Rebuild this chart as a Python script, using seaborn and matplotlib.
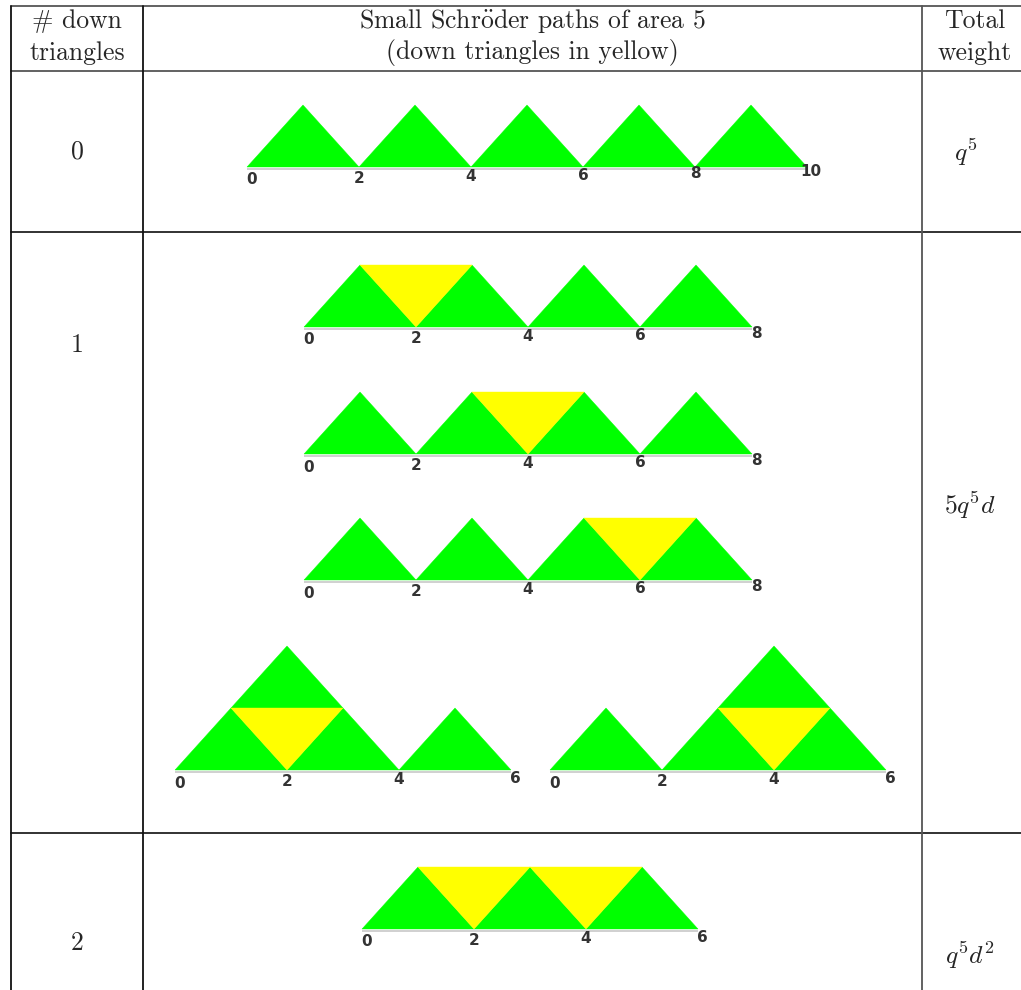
import matplotlib
matplotlib.use("Agg")
import matplotlib.pyplot as plt
import matplotlib.transforms as mtransforms
from matplotlib.patches import Polygon
import seaborn as sns

sns.set_theme(style="white")
plt.rcParams["mathtext.fontset"] = "cm"
plt.rcParams["font.family"] = ["cmr10", "DejaVu Serif"]
plt.rcParams["axes.formatter.use_mathtext"] = True

# ---------------- data ----------------
header_left = ["# down", "triangles"]
header_mid = [r"Small Schr$\ddot{\rm o}$der paths of area 5", "(down triangles in yellow)"]
header_right = ["Total", "weight"]
row_labels = ["0", "1", "2"]
row_weights = [r"$q^5$", r"$5q^5d$", r"$q^5d^2$"]

# each path: up triangles (left x, level), down triangles (left x, level), length
path_ups = [
    [(0, 0), (2, 0), (4, 0), (6, 0), (8, 0)],
    [(0, 0), (2, 0), (4, 0), (6, 0)],
    [(0, 0), (2, 0), (4, 0), (6, 0)],
    [(0, 0), (2, 0), (4, 0), (6, 0)],
    [(0, 0), (2, 0), (1, 1), (4, 0)],
    [(0, 0), (2, 0), (4, 0), (3, 1)],
    [(0, 0), (2, 0), (4, 0)],
]
path_downs = [
    [],
    [(1, 0)],
    [(3, 0)],
    [(5, 0)],
    [(1, 0)],
    [(3, 0)],
    [(1, 0), (3, 0)],
]
path_lengths = [10, 8, 8, 8, 6, 6, 6]

# ---------------- layout (pixels) ----------------
W, H = 1021, 990
origins = [(247, 167), (304, 327), (304, 454), (304, 580),
           (175, 770), (550, 770), (362, 929)]
UX, UY = 56.0, 62.0
GREEN = "#00ff00"
YELLOW = "#ffff00"

fig = plt.figure(figsize=(W / 100, H / 100), dpi=100)
ax = fig.add_axes([0, 0, 1, 1])
ax.set_xlim(0, W)
ax.set_ylim(H, 0)
ax.axis("off")

# table rules
lw = 1.3
ax.plot([11, W], [6, 6], color="#555555", lw=lw)
ax.plot([11, W], [71, 71], color="#555555", lw=lw)
for y in (232, 833):
    ax.plot([11, W], [y, y], color="#222222", lw=lw)
for x in (11, 143):
    ax.plot([x, x], [6, H], color="#111111", lw=lw)
ax.plot([922, 922], [6, H], color="#555555", lw=lw)

# header text
fs = 18.5
ax.text(77, 21, header_left[0], ha="center", va="center", fontsize=fs)
ax.text(77, 53, header_left[1], ha="center", va="center", fontsize=fs)
ax.text(532, 21, header_mid[0], ha="center", va="center", fontsize=fs)
ax.text(532, 53, header_mid[1], ha="center", va="center", fontsize=fs)
ax.text(975, 21, header_right[0], ha="center", va="center", fontsize=fs)
ax.text(975, 53, header_right[1], ha="center", va="center", fontsize=fs)

# row labels and weights
row_y = [152, 345, 943]
weight_y = [152, 505, 955]
weight_x = [966, 970, 970]
for lab, y in zip(row_labels, row_y):
    ax.text(77, y, lab, ha="center", va="center", fontsize=fs)
for wt, x, y in zip(row_weights, weight_x, weight_y):
    ax.text(x, y, wt, ha="center", va="center", fontsize=fs)

# paths
for ups, downs, L, (ox, oy) in zip(path_ups, path_downs, path_lengths, origins):
    tr = mtransforms.Affine2D().scale(UX, -UY).translate(ox, oy) + ax.transData
    ax.plot([0, L], [-0.03, -0.03], color="#c8c8c8", lw=1.2, transform=tr,
            solid_capstyle="butt")
    for (x, lv) in ups:
        ax.add_patch(Polygon([(x, lv), (x + 2, lv), (x + 1, lv + 1)],
                             closed=True, facecolor=GREEN, edgecolor=GREEN,
                             lw=0.3, transform=tr))
    for (x, lv) in downs:
        ax.add_patch(Polygon([(x, lv + 1), (x + 2, lv + 1), (x + 1, lv)],
                             closed=True, facecolor=YELLOW, edgecolor=YELLOW,
                             lw=0.3, transform=tr))
    ticks = list(range(0, L + 1, 2))
    for i, t in enumerate(ticks):
        dx = 5 if i == 0 else (4 if t == L else 0)
        dy = 13 - 1.6 * i
        ax.text(ox + t * UX + dx, oy + dy, str(t), ha="center", va="center",
                fontsize=11, fontweight="bold", color="#333333",
                family=["DejaVu Sans"])

fig.savefig("out.png", dpi=100)
